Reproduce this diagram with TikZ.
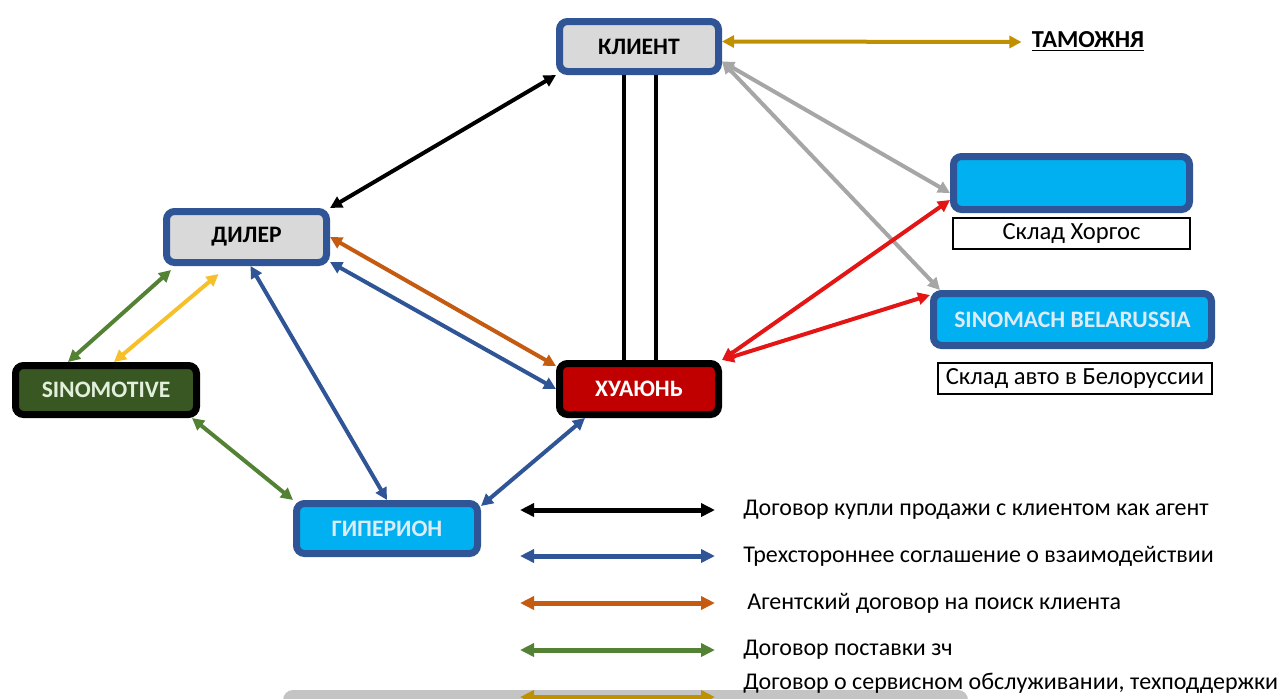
\documentclass[tikz,border=0pt]{standalone}
\usepackage{fontspec}
\setmainfont{Carlito}
\usetikzlibrary{arrows.meta}
\definecolor{boxblue}{HTML}{2F5597}
\definecolor{boxgray}{HTML}{D9D9D9}
\definecolor{skyblue}{HTML}{00B0F0}
\definecolor{darkgreen}{HTML}{385723}
\definecolor{darkred}{HTML}{C00000}
\definecolor{paletext}{HTML}{DDEBF7}
\definecolor{palegreen}{HTML}{E2EFDA}
\definecolor{goldline}{HTML}{BF9000}
\definecolor{orangeline}{HTML}{C55A11}
\definecolor{greenline}{HTML}{548235}
\definecolor{yellowline}{HTML}{F5C02A}
\definecolor{redline}{HTML}{E31515}
\definecolor{grayline}{HTML}{A6A6A6}
\definecolor{barfill}{HTML}{C4C4C4}
\begin{document}
\begin{tikzpicture}[x=0.5pt, y=-0.5pt, font=\fontsize{12pt}{14pt}\selectfont,
    party/.style={draw=boxblue, line width=3.5pt, rounded corners=4pt, inner sep=0pt, font=\fontsize{11.8pt}{14pt}\selectfont\bfseries},
    tag/.style={draw=black, line width=0.8pt, fill=white, inner sep=0pt, font=\fontsize{12.3pt}{14pt}\selectfont},
    link/.style={line width=2pt, {Triangle[length=6pt,width=6pt]}-{Triangle[length=6pt,width=6pt]}},
    keyline/.style={line width=2.5pt, {Triangle[length=7pt,width=6.5pt]}-{Triangle[length=7pt,width=6.5pt]}},
    keytext/.style={anchor=west, inner sep=0pt}]
  \path[use as bounding box, clip] (0,0) rectangle (1280,698);
  % nodes
  \node[party, fill=boxgray, minimum width=79.5pt, minimum height=25pt] (klient) at (639,46.5) {КЛИЕНТ};
  \node[party, fill=boxgray, minimum width=80pt, minimum height=25.5pt] (diler) at (246.5,237) {ДИЛЕР};
  \node[party, draw=black, fill=darkgreen, text=palegreen, minimum width=90.5pt, minimum height=24.5pt] (sinomotive) at (106,390) {SINOMOTIVE};
  \node[party, draw=black, fill=darkred, text=white, minimum width=79.5pt, minimum height=25.5pt] (huayun) at (639,389) {ХУАЮНЬ};
  \node[party, fill=skyblue, text=paletext, minimum width=90.5pt, minimum height=25pt] (giperion) at (387,528.5) {ГИПЕРИОН};
  \node[party, fill=skyblue, minimum width=118pt, minimum height=26.5pt] (horgos) at (1071.5,183) {};
  \node[tag, minimum width=118.5pt, minimum height=15.5pt] (horgostag) at (1071.5,233.5) {Склад Хоргос};
  \node[party, fill=skyblue, text=paletext, minimum width=139pt, minimum height=26pt] (sinomach) at (1072.5,319.5) {SINOMACH BELARUSSIA};
  \node[tag, minimum width=137pt, minimum height=15.5pt] (belarustag) at (1075,378.5) {Склад авто в Белоруссии};
  \node[font=\fontsize{12.2pt}{14pt}\selectfont\bfseries, inner sep=1pt] (customs) at (1088,42) {\underline{ТАМОЖНЯ}};
  % lines
  \draw[link, goldline] ([yshift=2.5pt]klient.east) -- ([xshift=-4pt]customs.west);
  \draw[link, black] (klient.south west) -- (diler.north east);
  \draw[black, line width=2pt] ([xshift=-7.5pt]klient.south) -- ([xshift=-7.5pt]huayun.north);
  \draw[black, line width=2pt] ([xshift=8.5pt]klient.south) -- ([xshift=8.5pt]huayun.north);
  \draw[link, grayline] ([yshift=-7.5pt]klient.east) -- ([yshift=-5pt]horgos.west);
  \draw[link, grayline] ([yshift=-7.5pt]klient.east) -- ([xshift=5pt]sinomach.north west);
  \draw[link, redline] (huayun.north east) -- ([yshift=6.5pt]horgos.south west);
  \draw[link, redline] (huayun.north east) -- ([yshift=-2.5pt]sinomach.north west);
  \draw[link, orangeline] (diler.east) -- ([yshift=-3pt]huayun.north west);
  \draw[link, boxblue] ([yshift=2pt]diler.south east) -- (huayun.west);
  \draw[link, boxblue] ([xshift=2pt]diler.south) -- (giperion.north);
  \draw[link, boxblue] ([xshift=-27pt]huayun.south) -- ([yshift=-3pt]giperion.north east);
  \draw[link, greenline] ([xshift=4pt,yshift=-2pt]diler.south west) -- ([xshift=-19pt]sinomotive.north);
  \draw[link, yellowline] ([xshift=-14pt,yshift=-4pt]diler.south) -- ([xshift=4pt]sinomotive.north);
  \draw[link, greenline] ([xshift=-4pt]sinomotive.south east) -- (giperion.north west);
  % legend
  \fill[barfill, rounded corners=5pt] (283,690) rectangle (968,712);
  \coordinate (k1a) at (520,510); \coordinate (k1b) at (715,510);
  \coordinate (k2a) at (520,556); \coordinate (k2b) at (715,556);
  \coordinate (k3a) at (520,603); \coordinate (k3b) at (715,603);
  \coordinate (k4a) at (520,650); \coordinate (k4b) at (715,650);
  \coordinate (k5a) at (520,697); \coordinate (k5b) at (715,697);
  \draw[keyline, black] (k1a) -- (k1b);
  \draw[keyline, boxblue] (k2a) -- (k2b);
  \draw[keyline, orangeline] (k3a) -- (k3b);
  \draw[keyline, greenline] (k4a) -- (k4b);
  \draw[keyline, goldline] (k5a) -- (k5b);
  \node[keytext] (t1) at (743,510) {Договор купли продажи с клиентом как агент};
  \node[keytext] (t2) at (743,556) {Трехстороннее соглашение о взаимодействии};
  \node[keytext] (t3) at (747,603) {Агентский договор на поиск клиента};
  \node[keytext] (t4) at (743,650) {Договор поставки зч};
  \node[keytext] (t5) at (743,683) {Договор о сервисном обслуживании, техподдержки};
\end{tikzpicture}
\end{document}
